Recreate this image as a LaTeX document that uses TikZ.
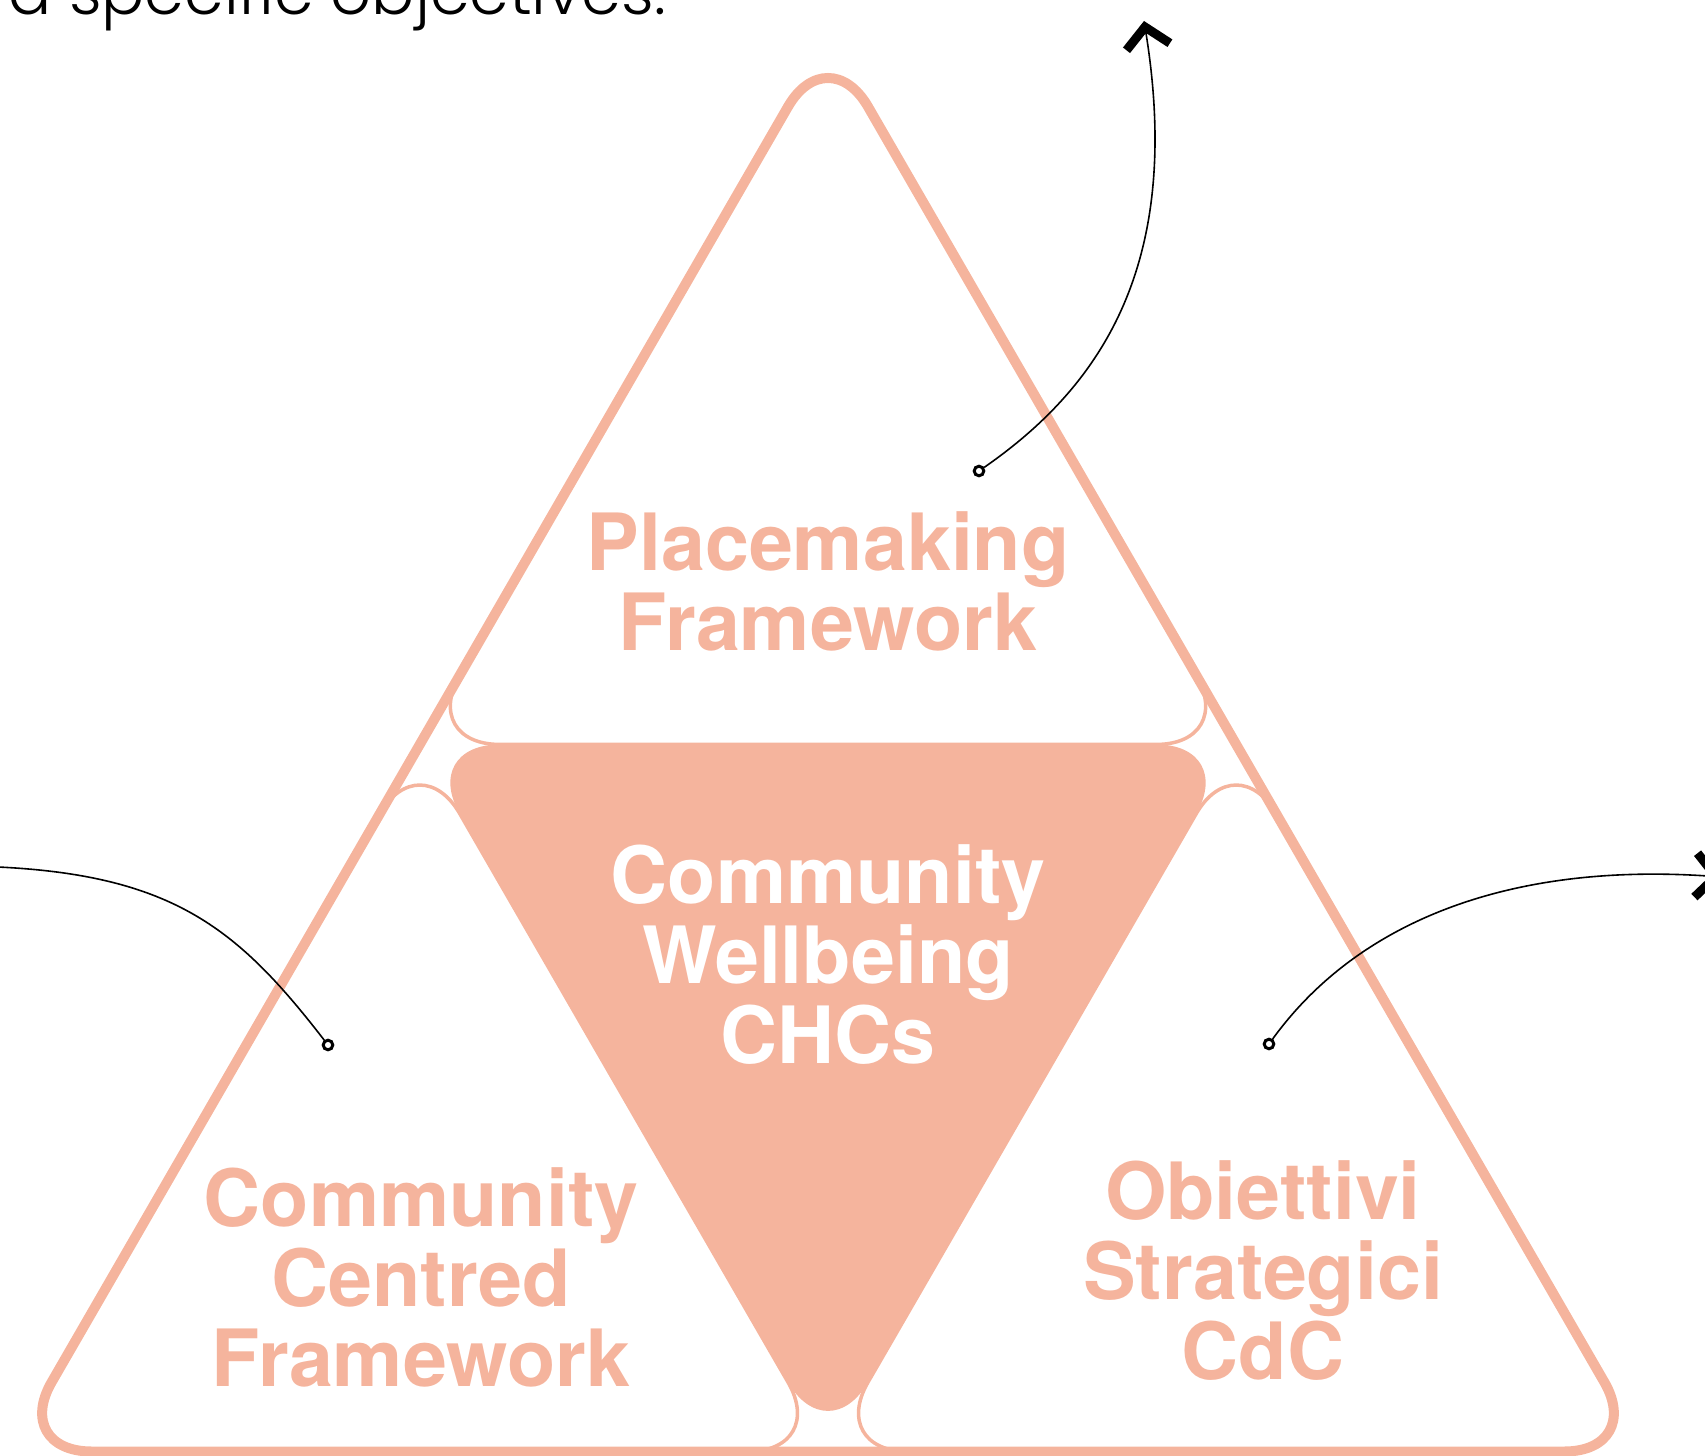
\documentclass[tikz,border=0pt]{standalone}
\usepackage{fontspec}
\setmainfont{TeX Gyre Heros}
\newfontfamily\introfont{Poppins Light}
\usetikzlibrary{arrows.meta,calc}
\definecolor{salmon}{RGB}{245,180,157}
\begin{document}
\begin{tikzpicture}[x=0.5pt,y=-0.5pt,
  panel/.style={draw=salmon,line width=1.75pt,rounded corners=40pt},
  rim/.style={draw=salmon,line width=5pt,rounded corners=40pt},
  core/.style={fill=salmon,rounded corners=40pt},
  heading/.style={font=\bfseries\fontsize{39.5pt}{40pt}\selectfont,align=center,inner sep=0pt,anchor=base},
  knob/.style={circle,draw=black,fill=white,line width=1.5pt,inner sep=0pt,minimum size=4.8pt},
  lead/.style={draw=black,line width=0.8pt,-{Straight Barb[length=10pt,width=22pt,line width=4.5pt,sharp]}}
]
\useasboundingbox (0,0) rectangle (1705,1456);
\clip (0,0) rectangle (1705,1456);

% corners of the large triangle and midpoints of its sides
\coordinate (A) at (828,37.4);
\coordinate (B) at (11.6,1451.5);
\coordinate (C) at (1644.4,1451.5);
\coordinate (ML) at ($(A)!0.5!(B)$);
\coordinate (MR) at ($(A)!0.5!(C)$);
\coordinate (MB) at ($(B)!0.5!(C)$);

% filled central triangle
\path[core] ($(ML)!0.5!(MR)$) -- (MR) -- (MB) -- (ML) -- cycle;

% the three corner triangles
\path[panel] ($(ML)!0.5!(MR)$) -- (MR) -- (A) -- (ML) -- cycle;
\path[panel] ($(B)!0.5!(MB)$) -- (MB) -- (ML) -- (B) -- cycle;
\path[panel] ($(MB)!0.5!(C)$) -- (C) -- (MR) -- (MB) -- cycle;

% outer rim
\path[rim] ($(B)!0.5!(C)$) -- (C) -- (A) -- (B) -- cycle;

% intro line
\node[anchor=base west,inner sep=0pt,font=\introfont\fontsize{32pt}{38pt}\selectfont] (intro) at (8,15) {a specific objectives.};

% labels
\node[heading,text=salmon] (top) at (828,650) {Placemaking\\Framework};
\node[heading,text=white] (mid) at (828,1063) {Community\\Wellbeing\\CHCs};
\node[heading,text=salmon] (left) at (421,1386) {Community\\Centred\\Framework};
\node[heading,text=salmon] (right) at (1263,1379) {Obiettivi\\Strategici\\CdC};

% leader lines
\node[knob] (k1) at (979,471) {};
\node[knob] (k2) at (328,1045) {};
\node[knob] (k3) at (1269,1044) {};
\coordinate (t1) at (1144,21);
\coordinate (t2) at (-30,866);
\coordinate (t3) at (1722,877);
\draw[lead] (k1) .. controls (1094,391) and (1185,272) .. (t1);
\draw[lead] (k2) .. controls (236,926) and (170,872) .. (t2);
\draw[lead] (k3) .. controls (1359,920) and (1512,862) .. (t3);
\end{tikzpicture}
\end{document}
